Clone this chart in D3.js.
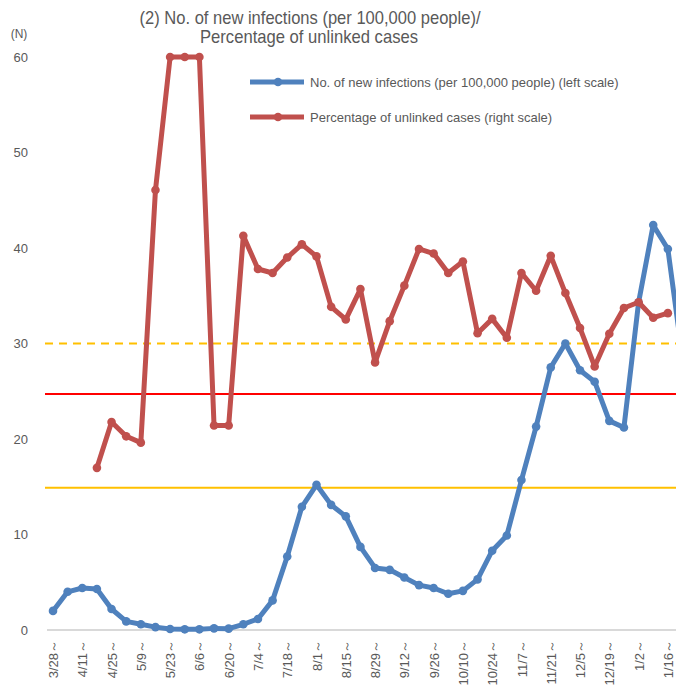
<!DOCTYPE html>
<html>
<head>
<meta charset="utf-8">
<script src="https://cdn.jsdelivr.net/npm/d3@7"></script>
<style>
  body { margin: 0; background: #fff; }
  svg { display: block; font-family: "Liberation Sans", Arial, sans-serif; }
</style>
</head>
<body>
<div id="chart"></div>
<script>
// weekly periods (start date of each week)
var weeks = ["3/28", "4/4", "4/11", "4/18", "4/25", "5/2", "5/9", "5/16", "5/23", "5/30",
    "6/6", "6/13", "6/20", "6/27", "7/4", "7/11", "7/18", "7/25", "8/1", "8/8",
    "8/15", "8/22", "8/29", "9/5", "9/12", "9/19", "9/26", "10/3", "10/10", "10/17",
    "10/24", "10/31", "11/7", "11/14", "11/21", "11/28", "12/5", "12/12", "12/19", "12/26",
    "1/2", "1/9", "1/16", "1/23"];

// new infections per 100,000 people (left scale)
var newInfections = [2.0, 4.0, 4.4, 4.3, 2.2, 0.9, 0.6, 0.3, 0.1, 0.07,
    0.07, 0.17, 0.14, 0.6, 1.15, 3.1, 7.7, 12.9, 15.2, 13.1,
    11.9, 8.7, 6.5, 6.3, 5.5, 4.7, 4.4, 3.8, 4.1, 5.3,
    8.3, 9.9, 15.7, 21.3, 27.5, 30.0, 27.2, 26.0, 21.9, 21.2,
    34.3, 42.4, 39.9, 28.5];

// percentage of unlinked cases (right scale, %)
var unlinkedPct = [null, null, null, 28.3, 36.3, 33.8, 32.7, 76.8, 100, 100,
    100, 35.7, 35.7, 68.8, 63.0, 62.3, 65.0, 67.3, 65.2, 56.4,
    54.2, 59.5, 46.7, 53.9, 60.1, 66.5, 65.7, 62.3, 64.3, 51.8,
    54.3, 51.0, 62.3, 59.2, 65.3, 58.8, 52.7, 46.0, 51.7, 56.2,
    57.2, 54.5, 55.3, null];

var leftTicks = [0, 10, 20, 30, 40, 50, 60];

// reference lines
var stage4Line = 24.7;   // left scale
var stage3Line = 14.9;   // left scale
var unlinkedLine = 50;   // right scale

var svgWidth = 676;
var svgHeight = 698;

var svg = d3.select("#chart")
    .append("svg")
    .attr("width", svgWidth)
    .attr("height", svgHeight);

//scales
var xScale = d3.scalePoint()
    .domain(weeks)
    .range([53, 682.5]);

var yLeft = d3.scaleLinear()
    .domain([0, 60])
    .range([630, 57]);

var yRight = d3.scaleLinear()
    .domain([0, 100])
    .range([630, 57]);

//title - squeezed a bit to look like the narrow font of the original
var title = svg.append("text")
    .attr("text-anchor", "middle")
    .attr("fill", "#595959")
    .style("font-size", "18.5px");

title.append("tspan")
    .attr("x", 310)
    .attr("y", 24)
    .attr("textLength", 341)
    .attr("lengthAdjust", "spacingAndGlyphs")
    .text("(2) No. of new infections (per 100,000 people)/");

title.append("tspan")
    .attr("x", 309)
    .attr("y", 43)
    .attr("textLength", 218)
    .attr("lengthAdjust", "spacingAndGlyphs")
    .text("Percentage of unlinked cases");

svg.append("text")
    .attr("x", 19)
    .attr("y", 38)
    .attr("text-anchor", "middle")
    .attr("fill", "#595959")
    .style("font-size", "12px")
    .text("(N)");

//left axis labels only (no gridlines)
var leftAxis = d3.axisLeft(yLeft)
    .tickValues(leftTicks)
    .tickSize(0)
    .tickPadding(0);

var yAxis = svg.append("g")
    .attr("transform", "translate(28, 0)")
    .call(leftAxis);

yAxis.select(".domain").remove();
yAxis.selectAll("text")
    .attr("fill", "#595959")
    .style("font-size", "13px")
    .style("font-family", "Liberation Sans, Arial, sans-serif");

//baseline
svg.append("line")
    .attr("x1", 47)
    .attr("x2", svgWidth)
    .attr("y1", yLeft(0))
    .attr("y2", yLeft(0))
    .attr("stroke", "#d9d9d9")
    .attr("stroke-width", 2);

//x axis labels, every other week
var bottomAxis = d3.axisBottom(xScale)
    .tickValues(weeks.filter((d, i) => i % 2 === 0))
    .tickSize(0)
    .tickFormat(d => d + "～");

var xAxis = svg.append("g")
    .attr("transform", `translate(0, ${yLeft(0)})`)
    .call(bottomAxis);

xAxis.select(".domain").remove();
xAxis.selectAll("text")
    .attr("transform", "rotate(-90)")
    .attr("x", -10)
    .attr("y", 0)
    .attr("dy", "0.35em")
    .attr("text-anchor", "end")
    .attr("fill", "#595959")
    .style("font-size", "13px")
    .style("font-family", "Liberation Sans, Arial, sans-serif");

//reference lines
svg.append("line")
    .attr("x1", 45).attr("x2", svgWidth)
    .attr("y1", yRight(unlinkedLine)).attr("y2", yRight(unlinkedLine))
    .attr("stroke", "#ffc000")
    .attr("stroke-width", 2)
    .attr("stroke-dasharray", "8,6");

svg.append("line")
    .attr("x1", 45).attr("x2", svgWidth)
    .attr("y1", yLeft(stage4Line)).attr("y2", yLeft(stage4Line))
    .attr("stroke", "#ff0000")
    .attr("stroke-width", 2);

svg.append("line")
    .attr("x1", 45).attr("x2", svgWidth)
    .attr("y1", yLeft(stage3Line)).attr("y2", yLeft(stage3Line))
    .attr("stroke", "#ffc000")
    .attr("stroke-width", 2);

//series
function drawSeries(values, yScale, color) {
    var pts = weeks.map((w, i) => ({ week: w, value: values[i] }))
        .filter(d => d.value !== null);

    var line = d3.line()
        .x(d => xScale(d.week))
        .y(d => yScale(d.value));

    svg.append("path")
        .datum(pts)
        .attr("d", line)
        .attr("fill", "none")
        .attr("stroke", color)
        .attr("stroke-width", 5)
        .attr("stroke-linejoin", "round");

    svg.selectAll()
        .data(pts)
        .enter()
        .append("circle")
        .attr("cx", d => xScale(d.week))
        .attr("cy", d => yScale(d.value))
        .attr("r", 4.3)
        .attr("fill", color);
}

drawSeries(newInfections, yLeft, "#4f81bd");
drawSeries(unlinkedPct, yRight, "#c0504d");

//legend
var legendItems = [
    { label: "No. of new infections (per 100,000 people) (left scale)", color: "#4f81bd" },
    { label: "Percentage of unlinked cases (right scale)", color: "#c0504d" }
];

var legend = svg.selectAll(".legend")
    .data(legendItems)
    .enter()
    .append("g")
    .attr("class", "legend")
    .attr("transform", (d, i) => `translate(250, ${82 + i * 35})`);

legend.append("line")
    .attr("x1", 0).attr("x2", 54)
    .attr("stroke", d => d.color)
    .attr("stroke-width", 5);

legend.append("circle")
    .attr("cx", 28)
    .attr("r", 4.3)
    .attr("fill", d => d.color);

legend.append("text")
    .attr("x", 60)
    .attr("dy", "0.35em")
    .attr("fill", "#595959")
    .style("font-size", "13px")
    .text(d => d.label);
</script>
</body>
</html>
